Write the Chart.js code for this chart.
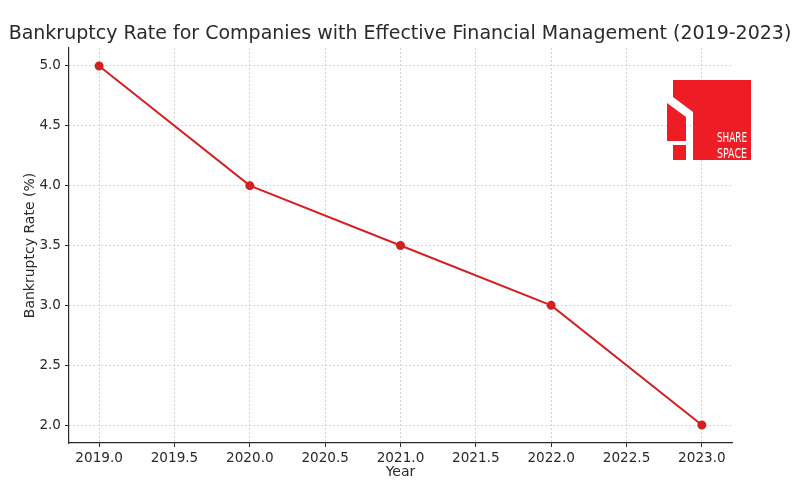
<!DOCTYPE html>
<html>
<head>
<meta charset="utf-8">
<script src="https://cdn.jsdelivr.net/npm/chart.js@4.4.0/dist/chart.umd.min.js"></script>
<style>
  html, body { margin: 0; padding: 0; background: #fff; }
  #wrap { width: 800px; height: 500px; }
</style>
</head>
<body>
<div id="wrap"><canvas id="rateChart" width="800" height="500"></canvas></div>
<script>
// Chart data
const years = [2019, 2020, 2021, 2022, 2023];
const bankruptcyRates = [5.0, 4.0, 3.5, 3.0, 2.0];

const chartTitle = 'Bankruptcy Rate for Companies with Effective Financial Management (2019-2023)';
const lineColor = '#d42020';
const textColor = '#2a2a2a';
const tickFont = { family: 'DejaVu Sans', size: 13.6 };

// pick a title size so the text is about 784px wide
function titleFontSize(ctx) {
    ctx.save();
    ctx.font = '20px "DejaVu Sans"';
    const w = ctx.measureText(chartTitle).width;
    ctx.restore();
    return Math.round(20 * 784 / w * 10) / 10;
}

// Logo in the top right corner (red block with "SHARE SPACE")
const logoPlugin = {
    id: 'logo',
    afterDraw(chart) {
        const ctx = chart.ctx;
        ctx.save();
        ctx.fillStyle = '#ee1c25';
        ctx.fillRect(693, 80, 58, 80);

        // the cut "S" on the left side
        const shapes = [
            [[673, 80], [693, 80], [693, 112], [673, 97]],
            [[667, 103], [686, 117], [686, 141], [667, 141]],
            [[673, 145], [686, 145], [686, 160], [673, 160]]
        ];
        shapes.forEach(pts => {
            ctx.beginPath();
            ctx.moveTo(pts[0][0], pts[0][1]);
            pts.slice(1).forEach(p => ctx.lineTo(p[0], p[1]));
            ctx.closePath();
            ctx.fill();
        });

        // thin white line inside the block
        ctx.strokeStyle = 'rgba(255,255,255,0.7)';
        ctx.lineWidth = 0.8;
        ctx.beginPath();
        ctx.moveTo(672, 102);
        ctx.lineTo(687, 116);
        ctx.stroke();

        // text, squeezed to a narrow width
        ctx.fillStyle = '#fff';
        ctx.font = '14px "DejaVu Sans"';
        ctx.textAlign = 'left';
        ctx.textBaseline = 'alphabetic';
        ['SHARE', 'SPACE'].forEach((word, i) => {
            const w = ctx.measureText(word).width;
            ctx.save();
            ctx.translate(717, 142 + i * 16);
            ctx.scale(30 / w, 1);
            ctx.fillText(word, 0, 0);
            ctx.restore();
        });
        ctx.restore();
    }
};

function initRateChart() {
    const ctx = document.getElementById('rateChart').getContext('2d');
    const titleSize = titleFontSize(ctx);
    // keep the plot area top at ~48px
    const titleTop = Math.max(0, 45 - titleSize * 1.2);

    const config = {
        type: 'line',
        data: {
            labels: years,
            datasets: [{
                label: 'Bankruptcy Rate',
                data: years.map((y, i) => ({ x: y, y: bankruptcyRates[i] })),
                borderColor: lineColor,
                backgroundColor: lineColor,
                borderWidth: 2,
                pointRadius: 3.5,
                pointHoverRadius: 3.5,
                tension: 0,
                fill: false
            }]
        },
        options: {
            responsive: false,
            animation: false,
            layout: { padding: 0 },
            plugins: {
                legend: { display: false },
                tooltip: { enabled: false },
                title: {
                    display: true,
                    text: chartTitle,
                    color: textColor,
                    font: { family: 'DejaVu Sans', size: titleSize, weight: 'normal' },
                    padding: { top: titleTop, bottom: 3 }
                }
            },
            scales: {
                x: {
                    type: 'linear',
                    min: 2018.8,
                    max: 2023.2,
                    afterFit: function(scale) { scale.height = 57; },
                    ticks: {
                        stepSize: 0.5,
                        includeBounds: false,
                        color: textColor,
                        font: tickFont,
                        padding: 3,
                        maxRotation: 0,
                        callback: function(value) { return value.toFixed(1); }
                    },
                    grid: {
                        color: '#d4d4d4',
                        lineWidth: 1,
                        tickColor: textColor,
                        tickLength: 4
                    },
                    border: { display: true, color: textColor, width: 1.2, dash: [2, 2] },
                    title: {
                        display: true,
                        text: 'Year',
                        color: textColor,
                        font: { family: 'DejaVu Sans', size: 14 },
                        padding: { top: 0, bottom: 19 }
                    }
                },
                y: {
                    min: 1.85,
                    max: 5.15,
                    afterFit: function(scale) { scale.width = 69; },
                    ticks: {
                        stepSize: 0.5,
                        includeBounds: false,
                        color: textColor,
                        font: tickFont,
                        padding: 4,
                        callback: function(value) { return value.toFixed(1); }
                    },
                    grid: {
                        color: '#d4d4d4',
                        lineWidth: 1,
                        tickColor: textColor,
                        tickLength: 4
                    },
                    border: { display: true, color: textColor, width: 1.2, dash: [2, 2] },
                    title: {
                        display: true,
                        text: 'Bankruptcy Rate (%)',
                        color: textColor,
                        font: { family: 'DejaVu Sans', size: 14 },
                        padding: { top: 22, bottom: 0 }
                    }
                },
                // empty axis on the right, only there to keep the right margin
                spacer: {
                    type: 'linear',
                    position: 'right',
                    display: true,
                    afterFit: function(scale) { scale.width = 68; },
                    ticks: { display: false },
                    grid: { display: false, drawTicks: false },
                    border: { display: false }
                }
            }
        },
        plugins: [logoPlugin]
    };

    new Chart(ctx, config);
}

document.addEventListener('DOMContentLoaded', initRateChart);
</script>
</body>
</html>
